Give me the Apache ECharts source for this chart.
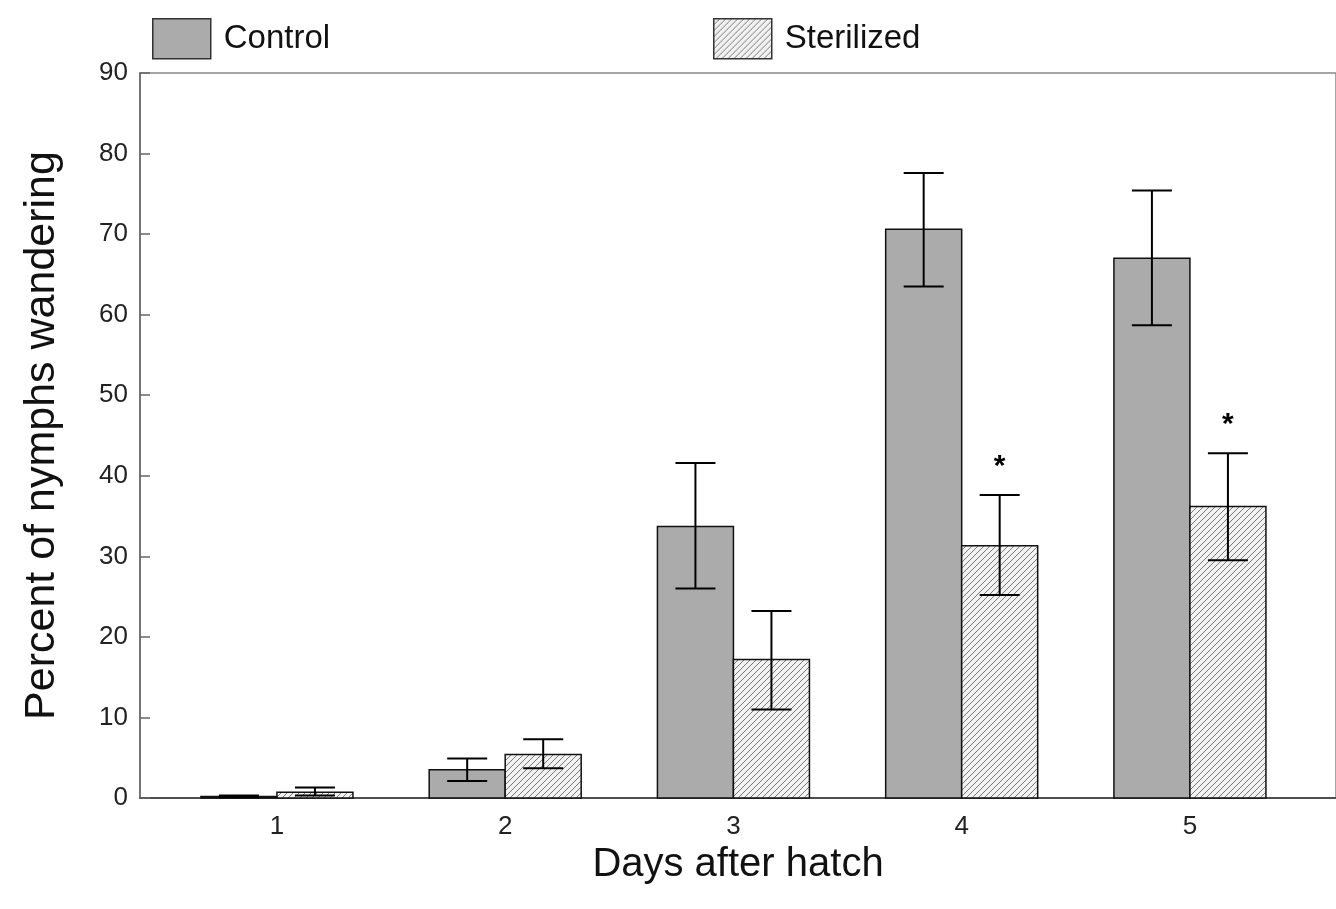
<!DOCTYPE html>
<html>
<head>
<meta charset="utf-8">
<script src="https://cdn.jsdelivr.net/npm/echarts@6/dist/echarts.min.js"></script>
<style>
html,body{margin:0;padding:0;background:#fff;}
#main{width:1336px;height:909px;}
</style>
</head>
<body>
<div id="main"></div>
<script>
// 数据
var days = [1, 2, 3, 4, 5];
var controlVal = [0.2, 3.5, 33.7, 70.6, 67.0];
var controlLo = [0.1, 2.1, 26.0, 63.5, 58.7];
var controlHi = [0.3, 4.9, 41.6, 77.6, 75.4];
var sterVal = [0.7, 5.4, 17.2, 31.3, 36.2];
var sterLo = [0.3, 3.7, 11.0, 25.2, 29.5];
var sterHi = [1.3, 7.3, 23.2, 37.6, 42.8];
var sterSig = [false, false, false, true, true];

// 斜线填充
function hatch(){
    var c = document.createElement('canvas');
    c.width = 6; c.height = 6;
    var ctx = c.getContext('2d');
    ctx.fillStyle = '#f2f2f2';
    ctx.fillRect(0, 0, 6, 6);
    ctx.strokeStyle = '#6a6a6a';
    ctx.lineWidth = 0.9;
    ctx.beginPath();
    ctx.moveTo(-1, 7); ctx.lineTo(7, -1);
    ctx.moveTo(-1, 1); ctx.lineTo(1, -1);
    ctx.moveTo(5, 7); ctx.lineTo(7, 5);
    ctx.stroke();
    return c;
}
var hatchFill = { image: hatch(), repeat: 'repeat' };
var grayFill = '#ababab';
var barW = 0.333;
var font = '"Liberation Sans", Arial, sans-serif';

function barSeries(name, vals, off, fill){
    var data = [];
    for (var i = 0; i < days.length; i++) data.push([days[i], vals[i]]);
    return {
        name: name,
        type: 'custom',
        itemStyle: { color: fill, borderColor: '#111', borderWidth: 1.5 },
        data: data,
        renderItem: function(params, api){
            var x = api.value(0), v = api.value(1);
            var p0 = api.coord([x + off, v]);
            var p1 = api.coord([x + off + barW, 0]);
            return {
                type: 'rect',
                shape: { x: p0[0], y: p0[1], width: p1[0] - p0[0], height: p1[1] - p0[1] },
                style: { fill: fill, stroke: '#111', lineWidth: 1.5 }
            };
        },
        z: 2
    };
}

function errSeries(lo, hi, off){
    var data = [];
    for (var i = 0; i < days.length; i++) data.push([days[i], lo[i], hi[i]]);
    return {
        type: 'custom',
        data: data,
        silent: true,
        renderItem: function(params, api){
            var x = api.value(0) + off;
            var a = api.coord([x, api.value(1)]);
            var b = api.coord([x, api.value(2)]);
            var hw = 20;
            var st = { stroke: '#000', lineWidth: 2 };
            return {
                type: 'group',
                children: [
                    { type: 'line', shape: { x1: a[0], y1: a[1], x2: b[0], y2: b[1] }, style: st },
                    { type: 'line', shape: { x1: a[0] - hw, y1: a[1], x2: a[0] + hw, y2: a[1] }, style: st },
                    { type: 'line', shape: { x1: b[0] - hw, y1: b[1], x2: b[0] + hw, y2: b[1] }, style: st }
                ]
            };
        },
        z: 3
    };
}

var starData = [];
for (var i = 0; i < days.length; i++) {
    if (sterSig[i]) starData.push([days[i], sterHi[i]]);
}

var myChart = echarts.init(document.getElementById('main'));
var option = {
    backgroundColor: '#fff',
    animation: false,
    legend: [{
        left: 147, top: 13, icon: 'rect',
        itemWidth: 58, itemHeight: 40, itemGap: 10,
        data: [{ name: 'Control', itemStyle: { color: grayFill, borderColor: '#333', borderWidth: 1.5 } }],
        textStyle: { fontFamily: font, fontSize: 33, color: '#111', padding: [9, 0, 0, 8] }
    }, {
        left: 708, top: 13, icon: 'rect',
        itemWidth: 58, itemHeight: 40, itemGap: 10,
        data: [{ name: 'Sterilized', itemStyle: { color: hatchFill, borderColor: '#333', borderWidth: 1.5 } }],
        textStyle: { fontFamily: font, fontSize: 33, color: '#111', padding: [9, 0, 0, 8] }
    }],
    grid: {
        left: 140, right: -2, top: 73, bottom: 111,
        show: true, borderColor: '#888', borderWidth: 1.5, backgroundColor: 'transparent'
    },
    xAxis: {
        type: 'value',
        min: 0.4, max: 5.64,
        splitLine: { show: false },
        axisLine: { show: true, lineStyle: { color: '#333', width: 1.5 } },
        axisTick: { show: false },
        axisLabel: {
            customValues: days,
            fontFamily: font, fontSize: 26, color: '#222', margin: 16,
            formatter: function(v){ return String(v); }
        },
        name: 'Days after hatch',
        nameLocation: 'middle',
        nameGap: 38,
        nameTextStyle: { fontFamily: font, fontSize: 40, color: '#111' }
    },
    yAxis: {
        type: 'value',
        min: 0, max: 90, interval: 10,
        splitLine: { show: false },
        axisLine: { show: true, lineStyle: { color: '#666', width: 1.5 } },
        axisTick: { show: true, inside: true, length: 10, lineStyle: { color: '#666', width: 1.5 } },
        axisLabel: { fontFamily: font, fontSize: 26, color: '#222', margin: 12 },
        name: 'Percent of nymphs wandering',
        nameLocation: 'middle',
        nameGap: 76,
        nameTextStyle: { fontFamily: font, fontSize: 43, color: '#111' }
    },
    series: [
        barSeries('Control', controlVal, -barW, grayFill),
        barSeries('Sterilized', sterVal, 0, hatchFill),
        errSeries(controlLo, controlHi, -barW / 2),
        errSeries(sterLo, sterHi, barW / 2),
        {
            type: 'custom',
            data: starData,
            silent: true,
            renderItem: function(params, api){
                var p = api.coord([api.value(0) + barW / 2, api.value(1)]);
                return {
                    type: 'text',
                    x: p[0], y: p[1] - 28,
                    style: { text: '*', fontFamily: font, fontSize: 30, fontWeight: 'bold', fill: '#000', align: 'center', verticalAlign: 'middle' }
                };
            },
            z: 4
        }
    ]
};
myChart.setOption(option);
</script>
</body>
</html>
